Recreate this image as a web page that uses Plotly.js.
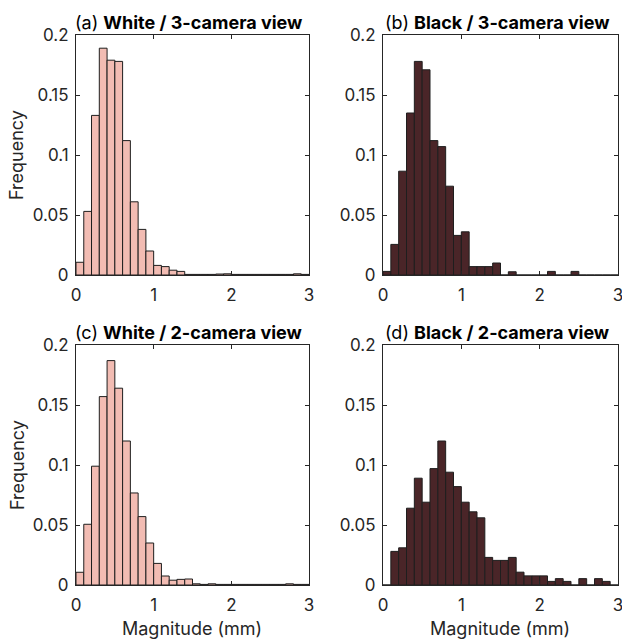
<!DOCTYPE html>
<html>
<head>
<meta charset="utf-8">
<script src="https://cdn.plot.ly/plotly-3.0.1.min.js"></script>
<style>html,body{margin:0;padding:0;background:#fff;}#chart{width:622px;height:639px;}</style>
</head>
<body>
<div id="chart"></div>
<script>
// Bin centres (mm), bin width 0.1 from 0 to 3
var binCenters = [0.05,0.15,0.25,0.35,0.45,0.55,0.65,0.75,0.85,0.95,1.05,1.15,1.25,1.35,1.45,1.55,1.65,1.75,1.85,1.95,2.05,2.15,2.25,2.35,2.45,2.55,2.65,2.75,2.85,2.95];

var whiteThree = [0.0106,0.053,0.133,0.189,0.179,0.178,0.112,0.061,0.038,0.020,0.008,0.007,0.004,0.003,0.0005,0.0005,0.0005,0.0005,0.0008,0.001,0.0005,0.0005,0.0005,0.0005,0.0005,0.0005,0.0005,0.0005,0.001,0.0005];
var blackThree = [0.003,0.0255,0.0865,0.135,0.178,0.171,0.112,0.107,0.074,0.033,0.036,0.007,0.007,0.007,0.010,0,0.0027,0,0,0,0,0.003,0,0,0.003,0,0,0,0,0];
var whiteTwo = [0.0106,0.0506,0.099,0.157,0.187,0.164,0.120,0.0767,0.057,0.035,0.018,0.0075,0.004,0.0047,0.005,0.001,0.0005,0.001,0.0005,0.0005,0.0005,0.0005,0.0005,0.0005,0.0005,0.0005,0.0005,0.001,0.0005,0.0005];
var blackTwo = [0,0.028,0.031,0.064,0.089,0.069,0.097,0.120,0.094,0.082,0.069,0.061,0.056,0.023,0.0205,0.0205,0.023,0.0107,0.0076,0.0076,0.0076,0.003,0.0053,0.003,0,0.0053,0,0.0053,0.003,0];

var panelTitles = [
  ['(a)', 'White / 3-camera view'],
  ['(b)', 'Black / 3-camera view'],
  ['(c)', 'White / 2-camera view'],
  ['(d)', 'Black / 2-camera view']
];
var xTickVals = [0,1,2,3];
var yTickVals = [0,0.05,0.1,0.15,0.2];
var yTickText = ['0','0.05','0.1','0.15','0.2'];
var xLabel = 'Magnitude (mm)';
var yLabel = 'Frequency';

var pink = '#F2BCB3';
var dark = '#4A2528';
var edge = '#1e1e1e';

var series = [whiteThree, blackThree, whiteTwo, blackTwo];
var colors = [pink, dark, pink, dark];
var axisIds = [['x','y'],['x2','y2'],['x3','y3'],['x4','y4']];

var data = series.map(function(vals, i){
  return {
    type: 'bar',
    x: binCenters,
    y: vals,
    width: 0.1,
    marker: {color: colors[i], line: {color: edge, width: 1}},
    xaxis: axisIds[i][0],
    yaxis: axisIds[i][1],
    showlegend: false,
    hoverinfo: 'x+y'
  };
});

var W = 622, H = 639;
var colX = [[76/W, 309/W], [383/W, 618/W]];
var rowY = [[(H-275)/H, (H-35)/H], [(H-585)/H, (H-345)/H]];

var fam = 'Inter, Liberation Sans, Arial, sans-serif';
var font = {family: fam, size: 17, color: '#262626'};

function xa(dom, anchor){
  return {domain: dom, anchor: anchor, range: [0,3], tickvals: xTickVals, ticktext: xTickVals.map(String),
    ticks: 'inside', ticklen: 4, tickcolor: '#262626', showline: true, linecolor: '#262626', linewidth: 1,
    mirror: 'ticks', showgrid: false, zeroline: false, tickfont: font, fixedrange: true,
    ticklabeloverflow: 'allow', ticklabelstandoff: 5};
}
function ya(dom, anchor){
  return {domain: dom, anchor: anchor, range: [0,0.2], tickvals: yTickVals, ticktext: yTickText,
    ticks: 'inside', ticklen: 4, tickcolor: '#262626', showline: true, linecolor: '#262626', linewidth: 1,
    mirror: 'ticks', showgrid: false, zeroline: false, tickfont: font, fixedrange: true,
    ticklabeloverflow: 'allow', ticklabelstandoff: 3};
}

var annotations = [];
var pos = [[0,0],[1,0],[0,1],[1,1]];
panelTitles.forEach(function(t, i){
  var c = colX[pos[i][0]], r = rowY[pos[i][1]];
  annotations.push({
    xref: 'paper', yref: 'paper', x: (c[0]+c[1])/2 - 3/W, y: r[1], yshift: 0,
    xanchor: 'center', yanchor: 'bottom', showarrow: false,
    text: t[0] + ' <b>' + t[1] + '</b>',
    font: {family: fam, size: 18, color: '#000'}
  });
});
[0,1].forEach(function(j){
  var r = rowY[j];
  annotations.push({
    xref: 'paper', yref: 'paper', x: 17/W, y: (r[0]+r[1])/2,
    xanchor: 'center', yanchor: 'middle', showarrow: false, textangle: -90,
    text: yLabel, font: {family: fam, size: 18, color: '#262626'}
  });
  var c = colX[j];
  annotations.push({
    xref: 'paper', yref: 'paper', x: (c[0]+c[1])/2, y: (H-628)/H,
    xanchor: 'center', yanchor: 'middle', showarrow: false,
    text: xLabel, font: {family: fam, size: 18, color: '#262626'}
  });
});

var layout = {
  width: W, height: H,
  margin: {l: 0, r: 0, t: 0, b: 0},
  paper_bgcolor: '#fff', plot_bgcolor: '#fff',
  font: font,
  bargap: 0,
  xaxis: xa(colX[0], 'y'), yaxis: ya(rowY[0], 'x'),
  xaxis2: xa(colX[1], 'y2'), yaxis2: ya(rowY[0], 'x2'),
  xaxis3: xa(colX[0], 'y3'), yaxis3: ya(rowY[1], 'x3'),
  xaxis4: xa(colX[1], 'y4'), yaxis4: ya(rowY[1], 'x4'),
  annotations: annotations
};

Plotly.newPlot('chart', data, layout, {displayModeBar: false, staticPlot: true});
</script>
</body>
</html>
